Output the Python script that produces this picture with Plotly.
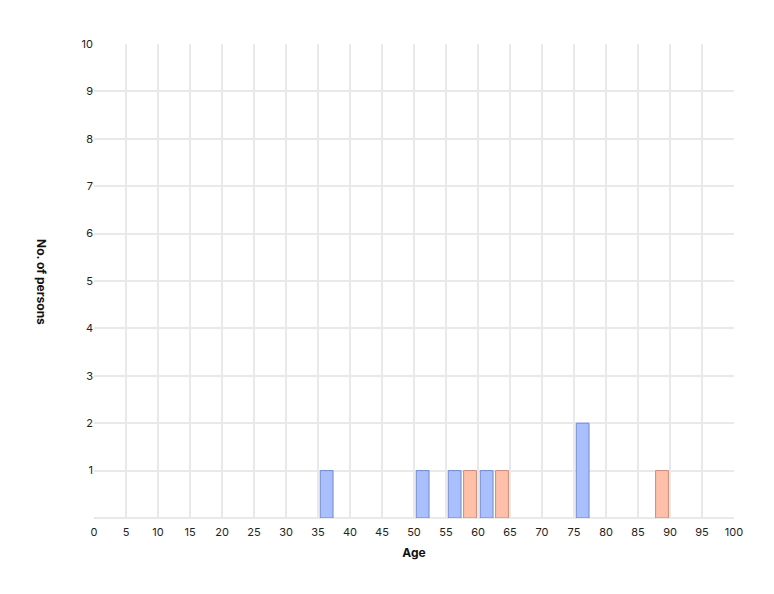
import plotly.graph_objects as go

# Bin centers (age bins of width 2.5) and counts
blue_bins = [36.35, 51.35, 56.35, 61.35, 76.35]
blue_counts = [1, 1, 1, 1, 2]
orange_bins = [58.75, 63.75, 88.75]
orange_counts = [1, 1, 1]
x_ticks = list(range(0, 101, 5))
y_ticks = list(range(1, 11))

fig = go.Figure()
fig.add_trace(go.Bar(x=blue_bins, y=blue_counts, width=2.0,
                     marker=dict(color="#aac0fe", line=dict(color="#7088cc", width=1)),
                     showlegend=False))
fig.add_trace(go.Bar(x=orange_bins, y=orange_counts, width=2.0,
                     marker=dict(color="#fec0a8", line=dict(color="#cc8a74", width=1)),
                     showlegend=False))

font = "Inter, Roboto, sans-serif"
fig.update_layout(
    width=774, height=594,
    margin=dict(l=94, r=40, t=44, b=76),
    plot_bgcolor="white", paper_bgcolor="white",
    barmode="overlay",
    font=dict(family=font, size=11, color="#222"),
    xaxis=dict(range=[0, 100], tickvals=x_ticks, showgrid=True, gridcolor="#e9e9e9", gridwidth=2,
               zeroline=False, showline=False, ticks="outside", ticklen=4, tickcolor="rgba(0,0,0,0)",
               tickfont=dict(size=11),
               title=dict(text="<b>Age</b>", font=dict(size=12, color="#111"), standoff=10)),
    yaxis=dict(range=[0, 10], tickvals=y_ticks, showgrid=True, gridcolor="#e9e9e9", gridwidth=2,
               zeroline=False, showline=False, ticks="", tickfont=dict(size=11)),
    annotations=[dict(text="<b>No. of persons</b>", textangle=90, x=42, y=282,
                      xref="paper", yref="paper", showarrow=False,
                      font=dict(size=12, color="#111"))],
)
pw = 774 - 94 - 40
ph = 594 - 44 - 76
fig.layout.annotations[0].x = (42 - 94) / pw
fig.layout.annotations[0].y = (594 - 76 - 282) / ph
fig.layout.annotations[0].xanchor = "center"
fig.layout.annotations[0].yanchor = "middle"
fig.add_shape(type="line", xref="paper", yref="paper", x0=0, x1=1, y0=0, y1=0,
              line=dict(color="#e9e9e9", width=2), layer="below")
fig.write_html("out.html")
